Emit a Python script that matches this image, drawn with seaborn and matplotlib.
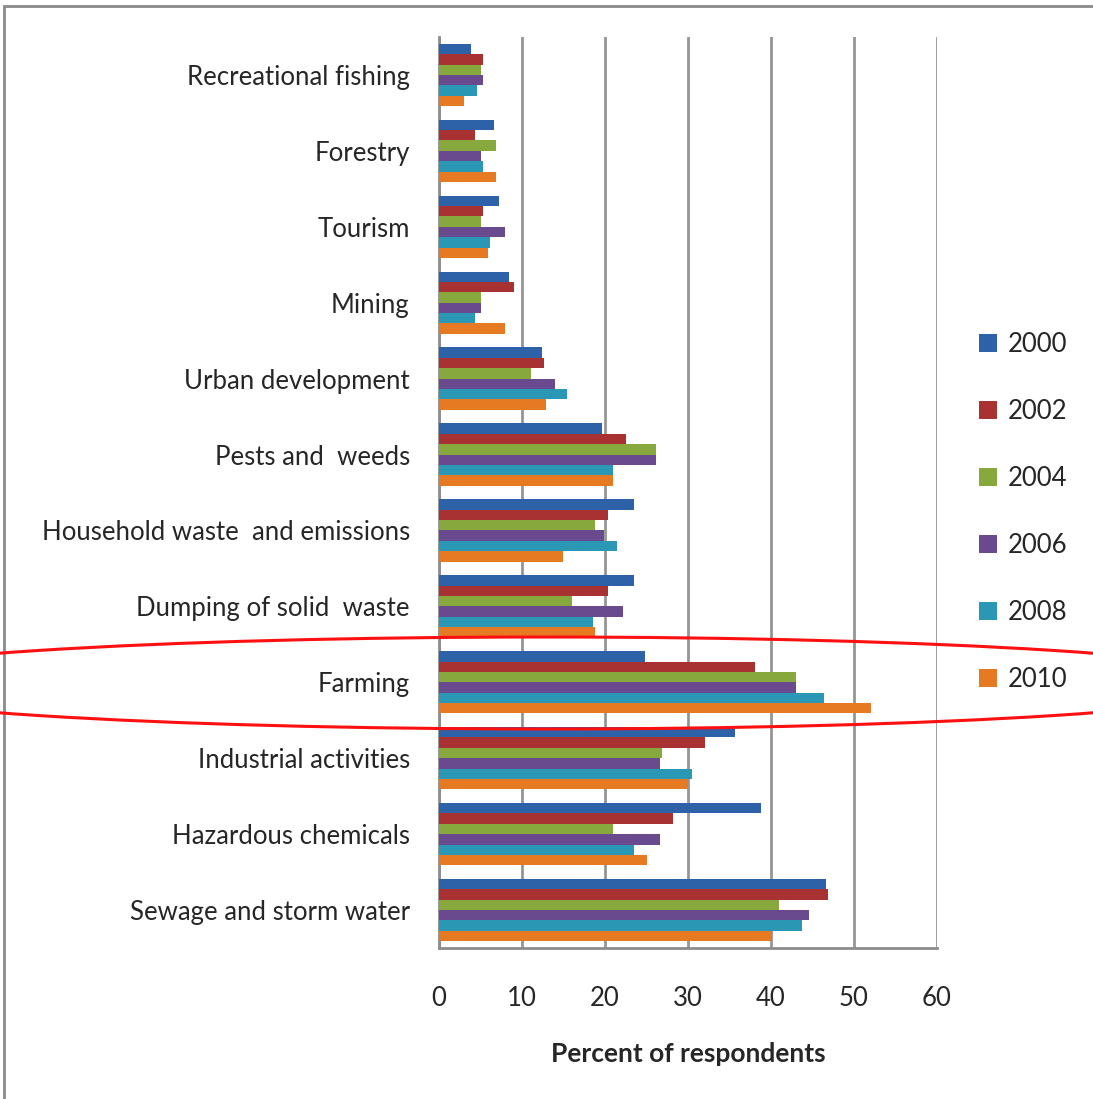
import pandas as pd
import seaborn as sns
import matplotlib.pyplot as plt
from matplotlib.patches import Ellipse, Rectangle

# categories, top to bottom
categories = ["Recreational fishing", "Forestry", "Tourism", "Mining",
              "Urban development", "Pests and  weeds",
              "Household waste  and emissions", "Dumping of solid  waste",
              "Farming", "Industrial activities", "Hazardous chemicals",
              "Sewage and storm water"]
years = ["2000", "2002", "2004", "2006", "2008", "2010"]

# percent of respondents per year (same order as categories)
v2000 = [3.9, 6.6, 7.2, 8.4, 12.4, 19.6, 23.5, 23.5, 24.8, 35.7, 38.8, 46.6]
v2002 = [5.3, 4.3, 5.3, 9.0, 12.7, 22.5, 20.4, 20.4, 38.1, 32.0, 28.2, 46.9]
v2004 = [5.1, 6.9, 5.1, 5.1, 11.1, 26.1, 18.8, 16.0, 43.0, 26.9, 21.0, 41.0]
v2006 = [5.3, 5.1, 8.0, 5.1, 14.0, 26.1, 19.9, 22.2, 43.0, 26.6, 26.6, 44.6]
v2008 = [4.6, 5.3, 6.1, 4.3, 15.4, 21.0, 21.4, 18.6, 46.4, 30.5, 23.5, 43.7]
v2010 = [3.0, 6.9, 5.9, 8.0, 12.9, 21.0, 14.9, 18.8, 52.0, 30.0, 25.1, 40.1]

colors = ["#2E62A8", "#A83232", "#86A83C", "#6A4A8E", "#2A97B5", "#E67A22"]

rows = []
for yr, vals in zip(years, [v2000, v2002, v2004, v2006, v2008, v2010]):
    for c, v in zip(categories, vals):
        rows.append({"category": c, "year": yr, "value": v})
df = pd.DataFrame(rows)

sns.set_style("white")
plt.rcParams['font.family'] = ['Lato', 'DejaVu Sans']

fig = plt.figure(figsize=(10.93, 10.99), dpi=100)
ax = fig.add_axes([439 / 1093, 1 - 948 / 1099, 498 / 1093, 911 / 1099])

sns.barplot(data=df, y="category", x="value", hue="year", order=categories,
            hue_order=years, palette=colors, width=0.82, orient="h",
            saturation=1, linewidth=0, ax=ax, zorder=3)

ax.set_xlim(0, 60)
ax.set_ylim(11.5, -0.5)
ax.set_xticks(range(0, 61, 10))
ax.xaxis.grid(True, color="#959595", linewidth=2, zorder=0)
ax.set_axisbelow(True)

ax.set_yticks(range(len(categories)))
ax.set_yticklabels(categories, fontsize=18.5)
ax.set_yticks([i - 0.5 for i in range(len(categories) + 1)], minor=True)
ax.tick_params(axis="y", which="major", length=0, pad=21)
ax.tick_params(axis="y", which="minor", length=6, width=2, color="#8c8c8c")
ax.tick_params(axis="x", length=6.5, width=2, color="#8c8c8c", pad=21,
               labelsize=18.5)

for s in ["top", "right"]:
    ax.spines[s].set_visible(False)
for s in ["left", "bottom"]:
    ax.spines[s].set_color("#8c8c8c")
    ax.spines[s].set_linewidth(2)

ax.set_ylabel("")
ax.set_xlabel("Percent of respondents", fontsize=19, fontweight="bold", labelpad=22)

ax.legend(loc="center left", bbox_to_anchor=(956 / 1093, 1 - 512 / 1099),
          bbox_transform=fig.transFigure, frameon=False, fontsize=18.5,
          labelspacing=1.64, handlelength=0.7, handleheight=0.7,
          handletextpad=0.4)

# outer frame
fig.patches.append(Rectangle((4 / 1093, -0.01), 1.1, 1 - 6 / 1099 + 0.01,
                             transform=fig.transFigure, fill=False,
                             edgecolor="#8a8a8a", linewidth=2))

# red ellipse highlighting Farming
fig.patches.append(Ellipse((546 / 1093, 1 - 683 / 1099), 1436 / 1093, 92 / 1099,
                           transform=fig.transFigure, fill=False,
                           edgecolor="#ff1010", linewidth=2.2, zorder=10))

fig.savefig("out.png", dpi=100)
